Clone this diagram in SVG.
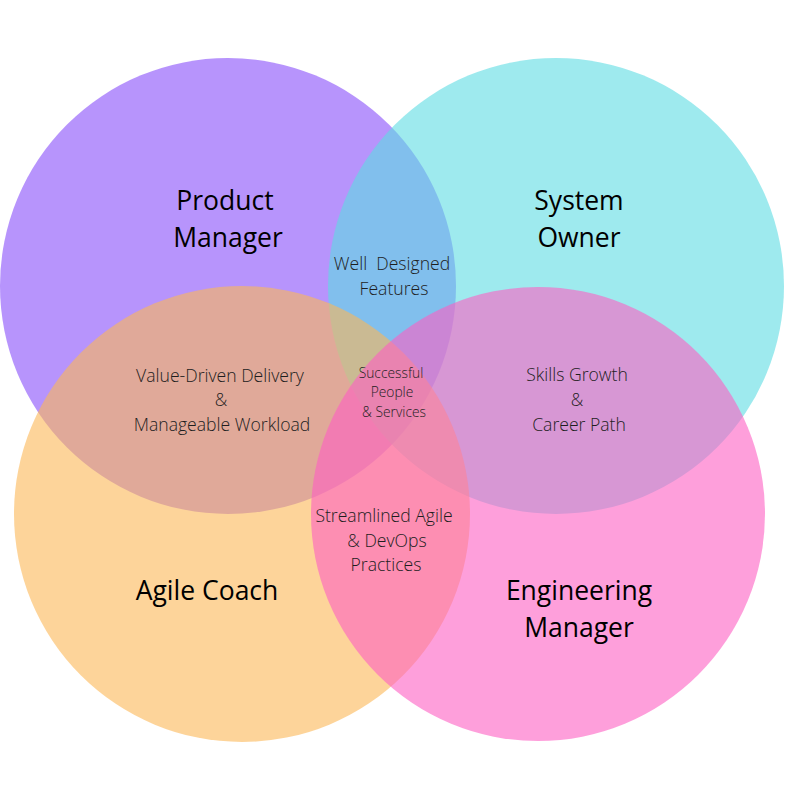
<svg xmlns="http://www.w3.org/2000/svg" width="800" height="800" viewBox="0 0 800 800">
<style>
.c{fill-opacity:0.6}
.big{font-family:"Open Sans","Noto Sans","Liberation Sans",sans-serif;font-size:26.5px;fill:#000;text-anchor:middle}
.mid{font-family:"Open Sans","Noto Sans","Liberation Sans",sans-serif;font-weight:300;font-size:17.6px;fill:#1e1e1e;text-anchor:middle}
.sm{font-family:"Open Sans","Noto Sans","Liberation Sans",sans-serif;font-weight:300;font-size:13.8px;fill:#1e1e1e;text-anchor:middle}
</style>
<rect width="800" height="800" fill="#fff"/>
<g id="product-manager">
<circle class="c" cx="228" cy="286" r="228" fill="rgb(135,77,250)"/>
<text class="big" x="225" y="210">Product</text>
<text class="big" x="228" y="247">Manager</text>
</g>
<g id="system-owner">
<circle class="c" cx="556" cy="286" r="228" fill="rgb(93,220,227)"/>
<text class="big" x="579" y="210">System</text>
<text class="big" x="579" y="247">Owner</text>
</g>
<g id="agile-coach">
<circle class="c" cx="242" cy="514" r="228" fill="rgb(252,183,87)"/>
<text class="big" x="207" y="600">Agile Coach</text>
</g>
<g id="engineering-manager">
<circle class="c" cx="538" cy="514" r="227" fill="rgb(253,95,195)"/>
<text class="big" x="579" y="600">Engineering</text>
<text class="big" x="579" y="637">Manager</text>
</g>
<g id="connectors"></g>
<g id="intersections">
<text class="mid" x="392" y="270" xml:space="preserve">Well  Designed</text>
<text class="mid" x="394" y="295">Features</text>
<text class="mid" x="220" y="382">Value-Driven Delivery</text>
<text class="mid" x="221" y="406">&amp;</text>
<text class="mid" x="222" y="431">Manageable Workload</text>
<text class="sm" x="391" y="378">Successful</text>
<text class="sm" x="392" y="397">People</text>
<text class="sm" x="394" y="417">&amp; Services</text>
<text class="mid" x="577" y="381">Skills Growth</text>
<text class="mid" x="577" y="406">&amp;</text>
<text class="mid" x="579" y="431">Career Path</text>
<text class="mid" x="384" y="522">Streamlined Agile</text>
<text class="mid" x="387" y="547">&amp; DevOps</text>
<text class="mid" x="386" y="571">Practices</text>
</g>
</svg>
